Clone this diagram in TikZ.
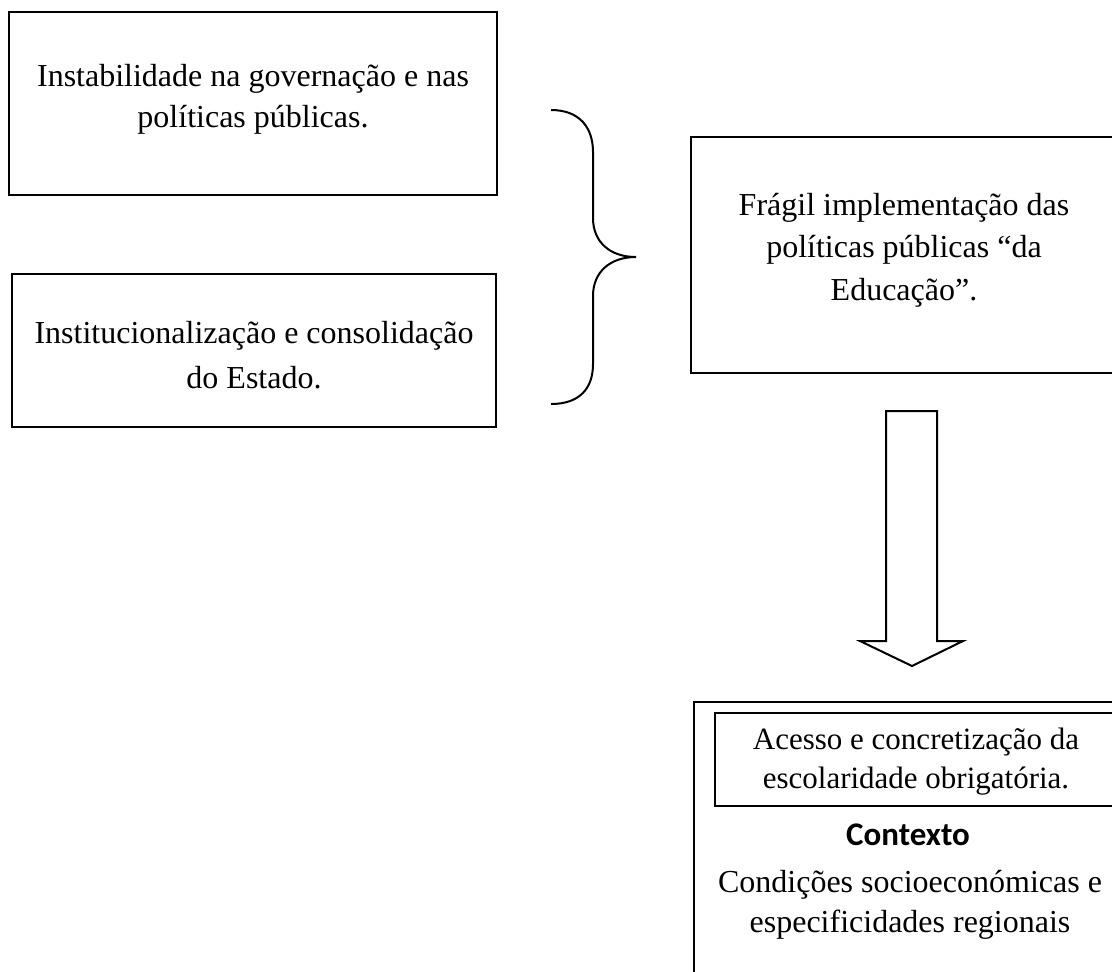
\documentclass[tikz,border=0pt]{standalone}
\usepackage{fontspec}
\setmainfont{Liberation Serif}
\newfontfamily\calibri{Carlito}
\tikzset{
  frame/.style={draw,line width=1pt,inner sep=0pt,outer sep=0pt},
  txt/.style={align=center,anchor=base,inner sep=0pt}
}
\begin{document}
\begin{tikzpicture}[x=0.5pt,y=-0.5pt,line width=1pt]
        \useasboundingbox (0,0) rectangle (1112,971);
        \clip (0,0) rectangle (1112,971);
        % left boxes
        \node[frame,minimum width=244pt,minimum height=91.5pt](box1)at(253,103.5){};
        \node[frame,minimum width=242pt,minimum height=76.5pt](box2)at(254,350.5){};
        \node[txt,font=\fontsize{16}{20.5}\selectfont](txt1)at(253,127){Instabilidade na governação e nas\\políticas públicas.};
        \node[txt,font=\fontsize{16}{22.5}\selectfont](txt2)at(254,388){Institucionalização e consolidação\\do Estado.};
        % brace
        \draw (551,110) .. controls (580,110) and (593,128) .. (593,152) -- (593,218)
              .. controls (593,242) and (610,257) .. (636,257)
              .. controls (610,257) and (593,272) .. (593,296) -- (593,364)
              .. controls (593,388) and (580,404) .. (551,404);
        % right side
        \node[frame,minimum width=224.5pt,minimum height=118pt](box3)at(915.5,255){};
        \node[txt,font=\fontsize{16}{21.25}\selectfont](txt3)at(904,300){Frágil implementação das\\políticas públicas “da\\Educação”.};
        \draw (886,411)--(937,411)--(937,641)--(963,641)--(912,666)--(860,641)--(886,641)--cycle;
        \node[frame,minimum width=223pt,minimum height=149pt](box4)at(917,851){};
        \node[frame,minimum width=205pt,minimum height=46.5pt](box5)at(920,759.5){};
        \node[txt,font=\fontsize{15.5}{19.5}\selectfont](txt5)at(916,788){Acesso e concretização da\\escolaridade obrigatória.};
        \node[txt,font=\calibri\bfseries\fontsize{16.5}{18}\selectfont](ctx)at(908,845){Contexto};
        \node[txt,font=\fontsize{16}{20}\selectfont](txt4)at(910,932){Condições socioeconómicas e\\especificidades regionais};
    \end{tikzpicture}
\end{document}
